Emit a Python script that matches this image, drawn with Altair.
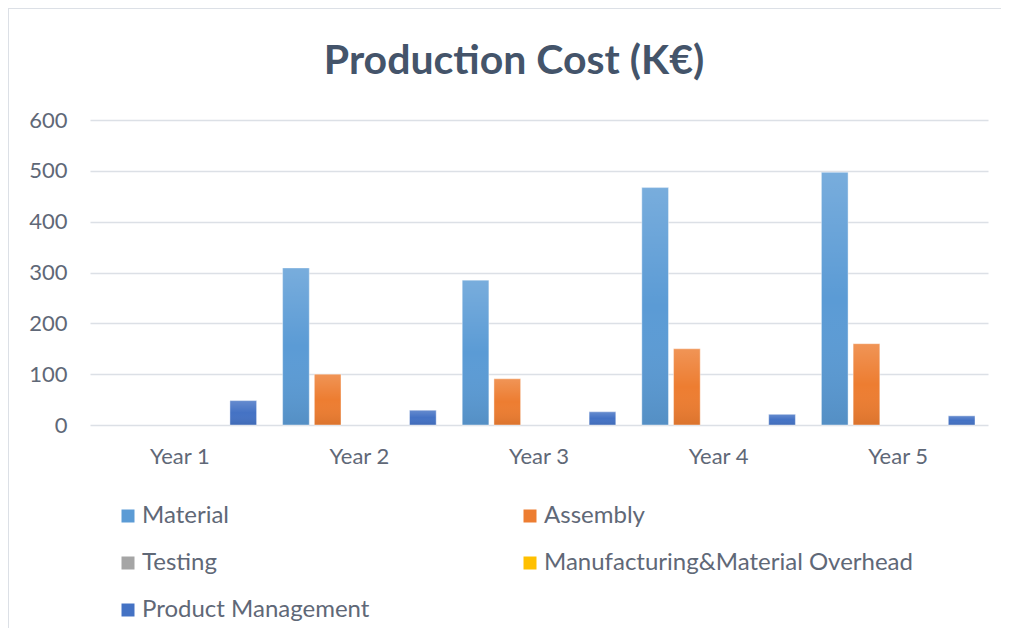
import altair as alt
import pandas as pd

years = ["Year 1", "Year 2", "Year 3", "Year 4", "Year 5"]
series = ["Material", "Assembly", "Testing",
          "Manufacturing&Material Overhead", "Product Management"]
material = [0, 309, 285, 467, 497]
assembly = [0, 100, 91, 150, 160]
testing = [0, 0, 0, 0, 0]
overhead = [0, 0, 0, 0, 0]
product_mgmt = [48, 29, 26, 21, 18]
colors = ["#5B9BD5", "#ED7D31", "#A5A5A5", "#FFC000", "#4472C4"]
y_ticks = [0, 100, 200, 300, 400, 500, 600]
title_text = "Production Cost (K€)"

rows = []
for name, vals in zip(series, [material, assembly, testing, overhead, product_mgmt]):
    for yr, v in zip(years, vals):
        rows.append({"year": yr, "series": name, "value": v})
df = pd.DataFrame(rows)

FONT = "Lato"
LABEL_COLOR = "#5F6877"

x_enc = alt.X("year:N", sort=years,
              scale=alt.Scale(paddingInner=0.145, paddingOuter=0.0725),
              axis=alt.Axis(title=None, labelAngle=0, ticks=False, domain=False,
                            labelFontSize=22, labelPadding=21, labelColor=LABEL_COLOR,
                            labelFont=FONT, grid=False))
xo_enc = alt.XOffset("series:N", sort=series,
                     scale=alt.Scale(paddingInner=0.16, paddingOuter=0))
y_enc = alt.Y("value:Q", scale=alt.Scale(domain=[0, 600], nice=False),
              axis=alt.Axis(title=None, values=y_ticks, ticks=False, domain=False,
                            labelFontSize=22, labelPadding=23, labelColor=LABEL_COLOR,
                            labelFont=FONT, gridColor="#DCE0E6", gridWidth=1.6))

bars = alt.Chart(df).mark_bar().encode(
    x=x_enc, xOffset=xo_enc, y=y_enc,
    color=alt.Color("series:N", sort=series,
                    scale=alt.Scale(domain=series, range=colors),
                    legend=alt.Legend(title=None, orient="none", legendX=26, legendY=384,
                                      direction="horizontal", columns=2,
                                      symbolType="square", symbolSize=169,
                                      symbolStrokeWidth=0, labelFontSize=24,
                                      labelFont=FONT, labelColor=LABEL_COLOR,
                                      labelOffset=2, labelLimit=600,
                                      rowPadding=23, columnPadding=148)),
)

overlay = alt.Chart(df).transform_filter("datum.value > 0").mark_bar(
    fill=alt.LinearGradient(
        gradient="linear", x1=0, x2=0, y1=0, y2=1,
        stops=[alt.GradientStop(color="rgba(255,255,255,0.18)", offset=0),
               alt.GradientStop(color="rgba(255,255,255,0)", offset=0.5),
               alt.GradientStop(color="rgba(0,0,0,0.08)", offset=1)]),
    stroke="rgba(255,255,255,0.4)", strokeWidth=1,
).encode(x=x_enc, xOffset=xo_enc, y=y_enc)

single = alt.Data(values=[{"t": title_text}])

title = alt.Chart(single).mark_text(
    font=FONT, fontSize=41, fontWeight="bold", color="#44546A",
    align="center", baseline="alphabetic"
).encode(text="t:N", x=alt.value(424), y=alt.value(-46))

frame = alt.Chart(single).mark_rect(
    filled=False, stroke="#DCE0E6", strokeWidth=2
).encode(x=alt.value(-82), x2=alt.value(1000), y=alt.value(-112), y2=alt.value(700))

chart = alt.layer(bars, overlay, title, frame).properties(
    width=898, height=305,
    autosize=alt.AutoSizeParams(type="none"),
    padding={"left": 82, "top": 112, "right": 13, "bottom": 203},
).configure(background="white").configure_view(strokeWidth=0)

chart.save("out.html", embed_options={"renderer": "svg", "actions": False})
